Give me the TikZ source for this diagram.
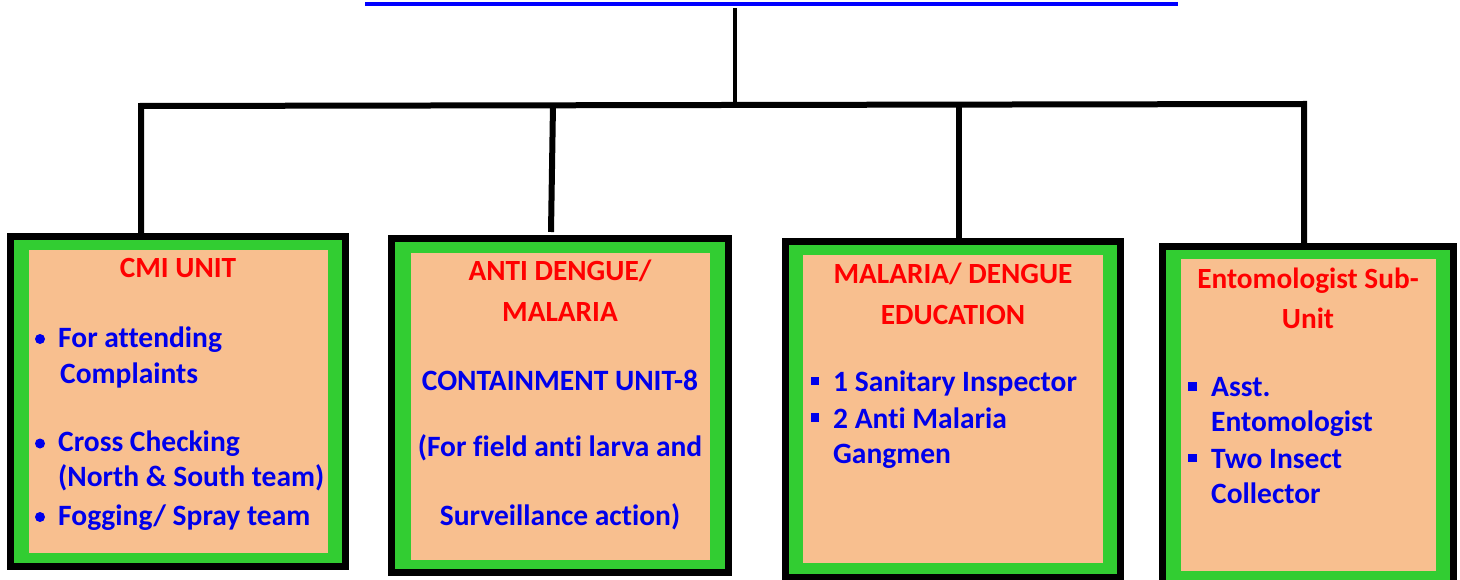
\documentclass[tikz,border=0pt]{standalone}
\usepackage{fontspec}
\setmainfont[Ligatures=NoCommon]{Carlito}
\definecolor{peach}{RGB}{248,191,143}
\definecolor{lgreen}{RGB}{50,205,50}
\definecolor{tred}{RGB}{255,0,0}
\definecolor{tblue}{RGB}{0,0,235}
\begin{document}
\begin{tikzpicture}[x=1pt,y=-1pt,
  title/.style={font=\bfseries\fontsize{29.3}{33}\selectfont, text=tred, anchor=base, inner sep=0pt},
  item/.style={font=\bfseries\fontsize{29.5}{34}\selectfont, text=tblue, anchor=base west, inner sep=0pt},
  citem/.style={font=\bfseries\fontsize{29.5}{34}\selectfont, text=tblue, anchor=base, inner sep=0pt},
  frame/.style={draw=black, line width=7pt, fill=lgreen, anchor=north west, inner sep=0pt},
  panel/.style={fill=peach},
  conn/.style={draw=black, line width=6pt, line join=miter},
  dot/.style={fill=tblue},
  sq/.style={fill=tblue}
]
\useasboundingbox (0,0) rectangle (1460,580);
% frames
\node[frame, minimum width=335pt, minimum height=330pt] (b1) at (7,233) {};
\node[frame, minimum width=337pt, minimum height=334pt] (b2) at (388,235) {};
\node[frame, minimum width=335pt, minimum height=336pt] (b3) at (782,238) {};
\node[frame, minimum width=291pt, minimum height=340pt] (b4) at (1159,243) {};
% panels
\fill[panel] (29,250) rectangle (328,553);
\fill[panel] (411,253) rectangle (710,560);
\fill[panel] (803,255) rectangle (1103,563);
\fill[panel] (1181,259) rectangle (1436,571);
% top line
\coordinate (tl) at (365,4);
\coordinate (tr) at (1178,4);
\draw[blue, line width=4pt] (tl) -- (tr);
% connectors
\coordinate (top) at (735,8);
\coordinate (j0) at (735,105);
\coordinate (j1) at (141,106);
\coordinate (j2) at (553,105);
\coordinate (j3) at (959,104.5);
\coordinate (j4) at (1304,104);
\coordinate (e2) at (551,232);
\draw[conn, line width=4pt] (top) -- (j0);
\draw[conn] (j1 |- b1.north) -- (j1) -- (j4) -- (j4 |- b4.north);
\draw[conn] (j2) -- (e2);
\draw[conn] (j3) -- (j3 |- b3.north);
% box 1
\node[title] (t1) at (178,277) {CMI UNIT};
\fill[dot] (40,339) circle (5);
\node[item] (i11) at (58,347.5) {For attending};
\node[item] (i12) at (60,383) {Complaints};
\fill[dot] (40,443.5) circle (5);
\node[item] (i13) at (58,451.5) {Cross Checking};
\node[item] (i14) at (58,486.5) {(North \& South team)};
\fill[dot] (40,517) circle (5);
\node[item] (i15) at (58,525) {Fogging/ Spray team};
% box 2
\node[title] (t21) at (560,280) {ANTI DENGUE/};
\node[title] (t22) at (560,321.5) {MALARIA};
\node[citem] (i21) at (560,390) {CONTAINMENT UNIT-8};
\node[citem] (i22) at (560,456.5) {(For field anti larva and};
\node[citem] (i23) at (560,525) {Surveillance action)};
% box 3
\node[title] (t31) at (953,283.3) {MALARIA/ DENGUE};
\node[title] (t32) at (953,324) {EDUCATION};
\fill[sq] (810.7,376.7) rectangle ++(8.5,8.5);
\node[item] (i31) at (833,391.7) {1 Sanitary Inspector};
\fill[sq] (810.7,413.3) rectangle ++(8.5,8.5);
\node[item] (i32) at (833,428.3) {2 Anti Malaria};
\node[item] (i33) at (833,463.3) {Gangmen};
% box 4
\node[title] (t41) at (1308,288.3) {Entomologist Sub-};
\node[title] (t42) at (1308,328.3) {Unit};
\fill[sq] (1188,382) rectangle ++(8.5,8.5);
\node[item] (i41) at (1211,396.7) {Asst.};
\node[item] (i42) at (1211,431.7) {Entomologist};
\fill[sq] (1188,453.5) rectangle ++(8.5,8.5);
\node[item] (i43) at (1211,468.3) {Two Insect};
\node[item] (i44) at (1211,503.3) {Collector};
\end{tikzpicture}
\end{document}
